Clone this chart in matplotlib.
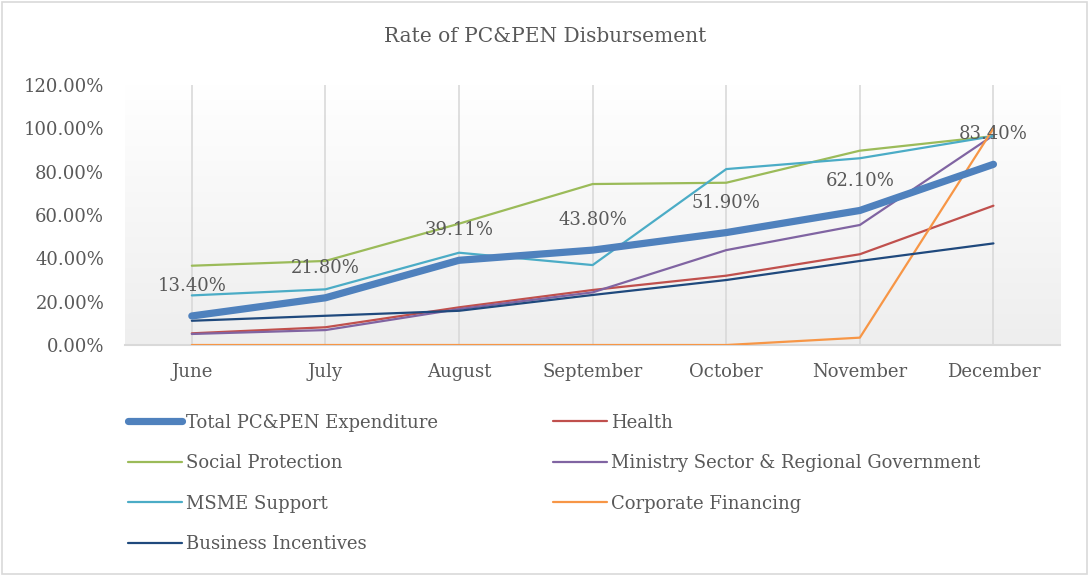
import numpy as np
import matplotlib
matplotlib.use('Agg')
import matplotlib.pyplot as plt
from matplotlib.patches import Rectangle

plt.rcParams['font.family'] = ['DejaVu Serif']
text_color = '#595959'

months = ['June', 'July', 'August', 'September', 'October', 'November', 'December']

total = [0.1340, 0.2180, 0.3911, 0.4380, 0.5190, 0.6210, 0.8340]
health = [0.054, 0.082, 0.174, 0.254, 0.320, 0.419, 0.643]
social = [0.366, 0.388, 0.560, 0.743, 0.749, 0.897, 0.964]
ministry = [0.051, 0.069, 0.166, 0.243, 0.438, 0.554, 0.968]
msme = [0.229, 0.257, 0.426, 0.369, 0.812, 0.862, 0.964]
corporate = [0.0, 0.0, 0.0, 0.0, 0.0, 0.034, 1.000]
business = [0.112, 0.135, 0.158, 0.231, 0.300, 0.388, 0.469]

series = [
    ('Total PC&PEN Expenditure', total, '#4F81BD', 5.2),
    ('Health', health, '#C0504D', 1.6),
    ('Social Protection', social, '#9BBB59', 1.6),
    ('Ministry Sector & Regional Government', ministry, '#8064A2', 1.6),
    ('MSME Support', msme, '#4BACC6', 1.6),
    ('Corporate Financing', corporate, '#F79646', 1.6),
    ('Business Incentives', business, '#1F497D', 1.6),
]

fig = plt.figure(figsize=(10.9, 5.76), dpi=100)
ax = fig.add_axes([0.1147, 0.401, 0.858, 0.4514])

# gradient plot-area fill, white at top to light grey at bottom
grad = np.linspace(0, 1, 256).reshape(-1, 1)
cmap = matplotlib.colors.LinearSegmentedColormap.from_list('g', ['#ffffff', '#eeeeee'])
ax.imshow(grad, extent=[0, 1, 0, 1], transform=ax.transAxes, aspect='auto',
          cmap=cmap, zorder=0)

x = np.arange(len(months))
handles = {}
# thin lines first, the thick total line drawn last
order = [1, 2, 3, 4, 5, 6, 0]
for i in order:
    name, vals, col, lw = series[i]
    ln, = ax.plot(x, vals, color=col, lw=lw, solid_capstyle='round',
                  solid_joinstyle='round', zorder=3 if i else 4, label=name)
    handles[name] = ln

for xi, v in zip(x, total):
    ax.annotate(f'{v*100:.2f}%', (xi, v), xytext=(0, 21.5), textcoords='offset points',
                ha='center', va='center', fontsize=13, color=text_color, zorder=6)

ax.set_xlim(-0.5, len(months) - 0.5)
ax.set_ylim(0, 1.2)
ax.set_yticks(np.arange(0, 1.21, 0.2))
ax.set_yticklabels([f'{t*100:.2f}%' for t in np.arange(0, 1.21, 0.2)])
ax.set_xticks(x)
ax.set_xticklabels(months)
ax.tick_params(axis='both', length=0, labelsize=13, labelcolor=text_color)
ax.tick_params(axis='y', pad=15)
ax.tick_params(axis='x', pad=13)
ax.grid(axis='x', color='#d9d9d9', lw=1.2, zorder=1)
ax.set_axisbelow(True)
for s in ['top', 'right', 'left']:
    ax.spines[s].set_visible(False)
ax.spines['bottom'].set_color('#d9d9d9')
ax.spines['bottom'].set_linewidth(1.5)

fig.text(0.5, 0.9375, 'Rate of PC&PEN Disbursement', ha='center', va='center',
         fontsize=14.5, color=text_color)

col1 = ['Total PC&PEN Expenditure', 'Social Protection', 'MSME Support', 'Business Incentives']
col2 = ['Health', 'Ministry Sector & Regional Government', 'Corporate Financing']
leg_kw = dict(loc='upper left', frameon=False, fontsize=13, labelcolor=text_color,
              handlelength=3.0, handletextpad=0.25, labelspacing=1.25, borderaxespad=0,
              borderpad=0)
leg1 = fig.legend([handles[n] for n in col1], col1, bbox_to_anchor=(0.117, 0.282), **leg_kw)
leg2 = fig.legend([handles[n] for n in col2], col2, bbox_to_anchor=(0.507, 0.282), **leg_kw)

fig.patches.append(Rectangle((0.002, 0.003), 0.995, 0.994, transform=fig.transFigure,
                             fill=False, edgecolor='#d9d9d9', lw=1.2))

fig.savefig('out.png', dpi=100)
